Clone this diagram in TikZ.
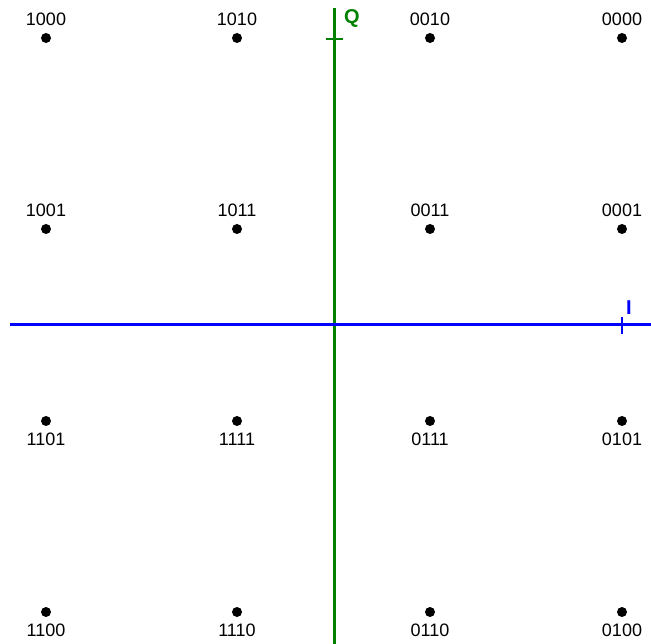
\documentclass[tikz,border=0pt]{standalone}
\usepackage{fontspec}
\setmainfont{Liberation Sans}
\usetikzlibrary{positioning}

\definecolor{qgreen}{RGB}{0,128,0}
\definecolor{iblue}{RGB}{0,0,255}

\begin{document}
\begin{tikzpicture}[
        x=1pt, y=-1pt,
        dot/.style  = {circle, fill=black, minimum size=10pt, inner sep=0pt},
        code/.style = {inner sep=0pt, font=\fontsize{18}{20}\selectfont},
        axlabel/.style = {font=\bfseries\fontsize{20}{22}\selectfont, inner sep=0pt},
        axis/.style = {line width=3pt},
        tick/.style = {line width=2.8pt},
        node distance = 7pt
    ]
        \useasboundingbox (0,0) rectangle (651,644);
        % axes
        \coordinate (qbot) at (334,644);
        \coordinate (qtop) at (334,8);
        \coordinate (ileft) at (10,325);
        \coordinate (iright) at (651,325);
        \draw[axis, qgreen] (qbot) -- (qtop);
        \draw[axis, iblue] (ileft) -- (iright);
        \coordinate (qt1) at (326,39);
        \coordinate (qt2) at (343,39);
        \coordinate (it1) at (622,317);
        \coordinate (it2) at (622,334);
        \draw[tick, qgreen] (qt1) -- (qt2);
        \draw[tick, iblue] (it1) -- (it2);
        \node[axlabel, qgreen] (qlab) at (352,18) {Q};
        \node[axlabel, iblue] (ilab) at (629,308) {I};
        % constellation points
        \foreach \bits/\cx/\cy/\side in {
            1000/46/38/above, 1010/237/38/above, 0010/430/38/above, 0000/622/38/above,
            1001/46/229/above, 1011/237/229/above, 0011/430/229/above, 0001/622/229/above,
            1101/46/421/below, 1111/237/421/below, 0111/430/421/below, 0101/622/421/below,
            1100/46/612/below, 1110/237/612/below, 0110/430/612/below, 0100/622/612/below}
        {
            \node[dot] (p\bits) at (\cx,\cy) {};
            \node[code, \side=of p\bits] (l\bits) {\bits};
        }
    \end{tikzpicture}
\end{document}
